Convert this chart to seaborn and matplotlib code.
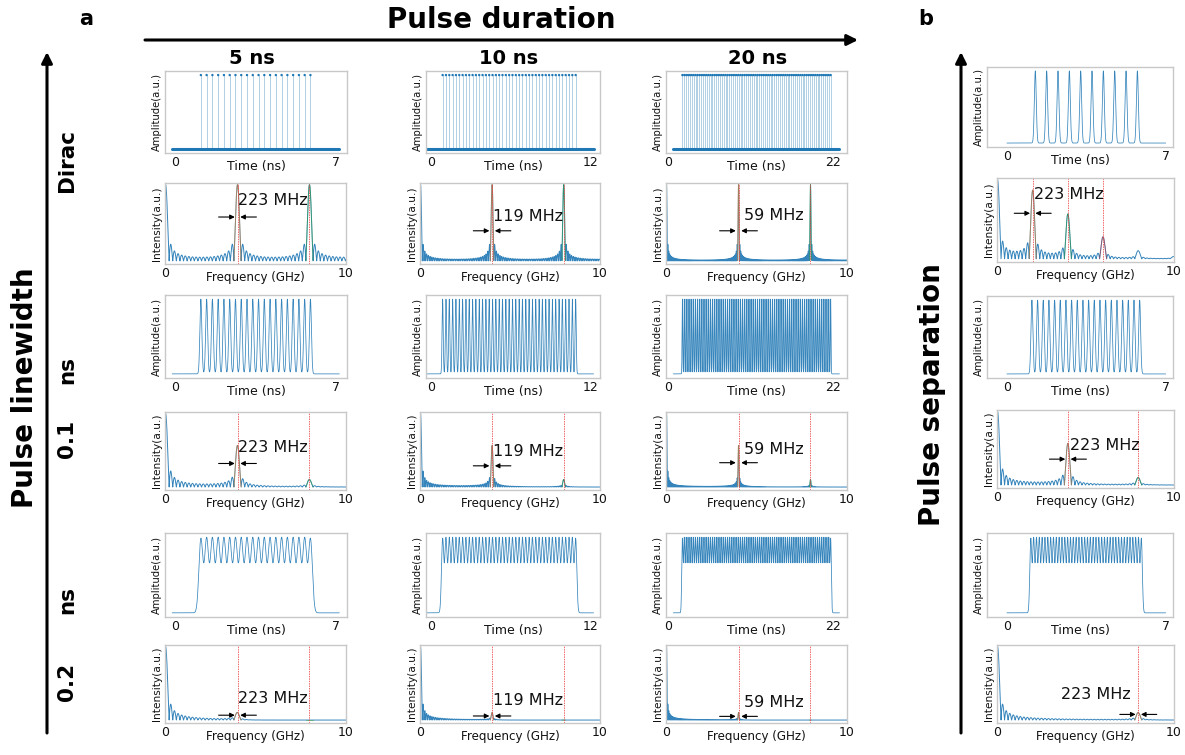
import numpy as np
import matplotlib
matplotlib.use("Agg")
import matplotlib.pyplot as plt
from matplotlib.patches import FancyArrowPatch
import seaborn as sns

# ------------------------------------------------------------------
# Values
# ------------------------------------------------------------------
COL_HEADERS = ["5 ns", "10 ns", "20 ns"]
A_WINDOW_TICKS = [7, 12, 22]                     # last time tick label per column
A_T_RANGE = [(-0.12, 7.13), (-0.37, 12.2), (0.67, 22.8)]   # extent of time trace
A_XLIM = [(-0.43, 7.46), (-0.40, 12.68), (-0.31, 23.8)]
A_N_PULSES = [20, 41, 80]
A_T_FIRST = [1.125, 0.85, 1.875]                 # ns, first pulse
A_PERIOD = 0.25                                  # ns
A_FWHM = [0.0, 0.1, 0.2]                         # Dirac, 0.1 ns, 0.2 ns
A_WIDTH_LABELS = ["223 MHz", "119 MHz", "59 MHz"]
A_RED_LINES = [4.0, 8.0]                         # GHz
A_TEXT_X = [4.02, 4.05, 4.3]
A_TEXT_Y = [[0.78, 0.59, 0.60], [0.55, 0.49, 0.52], [0.32, 0.29, 0.265]]
A_ARROW_Y = [[0.58, 0.41, 0.41], [0.34, 0.31, 0.35], [0.10, 0.09, 0.085]]

B_PERIOD = [0.5, 0.25, 0.125]
B_N_PULSES = [10, 20, 40]
B_T_FIRST = [1.25, 1.1, 1.05]
B_FWHM = 0.1
B_T_RANGE = (0.0, 7.0)
B_XLIM = (-0.88, 7.32)
B_RED_LINES = [[2.0, 4.0, 6.0], [4.0, 8.0], [8.0]]
B_WIDTH_LABEL = "223 MHz"
B_TEXT_X = [2.05, 4.1, 3.6]
B_TEXT_Y = [0.80, 0.54, 0.37]
B_ARROW_Y = [0.58, 0.37, 0.11]

FREQ_TICKS = [0, 10]

# ------------------------------------------------------------------
# Layout (pixels of the 1185x755 canvas)
# ------------------------------------------------------------------
W, H = 1185, 755
A_COLS_TIME = [(165, 347), (426, 600), (666, 847)]
A_COLS_SPEC = [(165, 346), (420, 600), (666, 847)]
A_ROWS = [(71, 153), (183, 264), (295, 378), (412, 490), (533, 617), (645, 723)]
B_COL_TIME = (987, 1173)
B_COL_SPEC = (997, 1174)
B_ROWS = [(67, 147), (178, 262), (296, 378), (410, 488), (533, 617), (645, 723)]

C0 = "#1f77b4"
OVERLAY = ["#ff7f0e", "#2ca02c", "#d62728"]
FS = 80.0
DT = 1.0 / FS
NFFT = 2 ** 16

sns.set_theme(style="white")
plt.rcParams["font.family"] = ["DejaVu Sans"]
plt.rcParams["text.color"] = "black"
plt.rcParams["axes.labelcolor"] = "#111111"

fig = plt.figure(figsize=(W / 100, H / 100), dpi=100)
fig.patch.set_facecolor("white")


def px(x):
    return x / W


def py(y):
    return 1 - y / H


def add_ax(col, row):
    l, r = col
    t, b = row
    return fig.add_axes([px(l), py(b), (r - l) / W, (b - t) / H])


def style(ax):
    for sp in ax.spines.values():
        sp.set_color("#c8c8c8")
        sp.set_linewidth(1.0)
    ax.set_yticks([])
    ax.tick_params(axis="x", length=0, pad=2, labelsize=9, colors="#111111")
    ax.grid(False)


def gauss_train(t, times, fwhm):
    sig = fwhm / 2.3548
    return np.exp(-(t[:, None] - times[None, :]) ** 2 / (2 * sig ** 2)).sum(axis=1)


def draw_time(ax, times, fwhm, t_range, xlim, tick_end):
    if fwhm == 0:
        sns.lineplot(x=[t_range[0], t_range[1]], y=[0, 0], ax=ax, color=C0, lw=2.2)
        ax.vlines(times, 0, 1, color=C0, lw=0.6, alpha=0.4)
        sns.scatterplot(x=times, y=np.ones_like(times), ax=ax, color=C0, s=3,
                        edgecolor="none", linewidth=0)
        top = 1.0
    else:
        t = np.arange(t_range[0], t_range[1], 0.004)
        s = gauss_train(t, times, fwhm)
        sns.lineplot(x=t, y=s, ax=ax, color=C0, lw=0.55, alpha=0.9,
                     estimator=None, sort=False)
        top = s.max()
    ax.set_xlim(xlim)
    ax.set_ylim(-0.055 * top, 1.055 * top)
    style(ax)
    ax.set_xticks([0, tick_end])
    ax.set_xticklabels(["0", str(tick_end)])
    ax.set_xlabel("Time (ns)", fontsize=9, labelpad=-6)
    ax.set_ylabel("Amplitude(a.u.)", fontsize=7.2, labelpad=2)


def spectrum(times, fwhm, t_hi):
    n = int(round(t_hi / DT)) + 1
    t = DT * np.arange(n)
    if fwhm == 0:
        s = np.zeros(n)
        idx = np.round(times / DT).astype(int)
        s[idx] = 1.0
    else:
        s = gauss_train(t, times, fwhm)
    X = np.abs(np.fft.rfft(s, NFFT))
    f = np.fft.rfftfreq(NFFT, DT)
    m = f <= 10.05
    return f[m], X[m] / X.max()


def draw_spec(ax, times, fwhm, t_hi, red_lines, half_lobe, label, tx, ty, ay, f0):
    f, a = spectrum(times, fwhm, t_hi)
    sns.lineplot(x=f, y=a, ax=ax, color=C0, lw=0.7, alpha=0.9,
                 estimator=None, sort=False)
    for k, fl in enumerate(red_lines):
        m = (f >= fl - half_lobe) & (f <= fl + half_lobe)
        sns.lineplot(x=f[m], y=a[m], ax=ax, color=OVERLAY[k % 3], lw=0.7, alpha=0.5,
                     estimator=None, sort=False)
        ax.axvline(fl, color="#f04040", lw=0.7, ls=(0, (1.5, 1.0)), alpha=0.8)
    ax.set_xlim(-0.03, 10.03)
    ax.set_ylim(-0.04, 1.02)
    style(ax)
    ax.set_xticks(FREQ_TICKS)
    ax.set_xticklabels([str(v) for v in FREQ_TICKS])
    ax.set_xlabel("Frequency (GHz)", fontsize=8.6, labelpad=-6)
    ax.set_ylabel("Intensity(a.u.)", fontsize=7.6, labelpad=2)
    tr = ax.get_xaxis_transform()
    ax.text(tx, ty, label, transform=tr, fontsize=11.5, ha="left", va="center",
            color="#111111")
    ap = dict(arrowstyle="-|>", color="black", lw=0.8, mutation_scale=7,
              shrinkA=0, shrinkB=0)
    ax.annotate("", xy=(f0 - 0.15, ay), xytext=(f0 - 1.05, ay), xycoords=tr,
                textcoords=tr, arrowprops=ap)
    ax.annotate("", xy=(f0 + 0.15, ay), xytext=(f0 + 1.05, ay), xycoords=tr,
                textcoords=tr, arrowprops=ap)


# ---------------- panel a ----------------
for r, fwhm in enumerate(A_FWHM):
    for c in range(3):
        times = A_T_FIRST[c] + A_PERIOD * np.arange(A_N_PULSES[c])
        ax_t = add_ax(A_COLS_TIME[c], A_ROWS[2 * r])
        draw_time(ax_t, times, fwhm, A_T_RANGE[c], A_XLIM[c], A_WINDOW_TICKS[c])
        ax_s = add_ax(A_COLS_SPEC[c], A_ROWS[2 * r + 1])
        half = 1.0 / (A_N_PULSES[c] * A_PERIOD)
        draw_spec(ax_s, times, fwhm, A_T_RANGE[c][1], A_RED_LINES, half,
                  A_WIDTH_LABELS[c], A_TEXT_X[c], A_TEXT_Y[r][c], A_ARROW_Y[r][c],
                  A_RED_LINES[0])

# ---------------- panel b ----------------
for r in range(3):
    times = B_T_FIRST[r] + B_PERIOD[r] * np.arange(B_N_PULSES[r])
    ax_t = add_ax(B_COL_TIME, B_ROWS[2 * r])
    draw_time(ax_t, times, B_FWHM, B_T_RANGE, B_XLIM, 7)
    ax_s = add_ax(B_COL_SPEC, B_ROWS[2 * r + 1])
    half = 1.0 / (B_N_PULSES[r] * B_PERIOD[r])
    draw_spec(ax_s, times, B_FWHM, B_T_RANGE[1], B_RED_LINES[r], half,
              B_WIDTH_LABEL, B_TEXT_X[r], B_TEXT_Y[r], B_ARROW_Y[r],
              B_RED_LINES[r][0])

# ---------------- annotations ----------------
fig.text(px(86), py(19), "a", fontsize=15, fontweight="bold", ha="center", va="center")
fig.text(px(926), py(19), "b", fontsize=15, fontweight="bold", ha="center", va="center")
fig.text(px(501), py(20), "Pulse duration", fontsize=20, fontweight="bold",
         ha="center", va="center")
for x, s in zip([252, 509, 758], COL_HEADERS):
    fig.text(px(x), py(59), s, fontsize=14, fontweight="bold", ha="center", va="center")

fig.text(px(25), py(388), "Pulse linewidth", fontsize=20, fontweight="bold",
         rotation=90, ha="center", va="center")
fig.text(px(932), py(395), "Pulse separation", fontsize=20, fontweight="bold",
         rotation=90, ha="center", va="center")

fig.text(px(67), py(160), "Dirac", fontsize=15.5, fontweight="bold", rotation=90,
         ha="center", va="center")
fig.text(px(67), py(439), "0.1", fontsize=15.5, fontweight="bold", rotation=90,
         ha="center", va="center")
fig.text(px(67), py(370), "ns", fontsize=15.5, fontweight="bold", rotation=90,
         ha="center", va="center")
fig.text(px(67), py(682), "0.2", fontsize=15.5, fontweight="bold", rotation=90,
         ha="center", va="center")
fig.text(px(67), py(600), "ns", fontsize=15.5, fontweight="bold", rotation=90,
         ha="center", va="center")


def big_arrow(x0, y0, x1, y1):
    fig.add_artist(FancyArrowPatch((px(x0), py(y0)), (px(x1), py(y1)),
                                   transform=fig.transFigure, arrowstyle="-|>",
                                   mutation_scale=16, lw=2.2, color="black",
                                   shrinkA=0, shrinkB=0))


big_arrow(145, 40, 858, 40)
big_arrow(47, 733, 47, 52)
big_arrow(961, 733, 961, 52)

fig.savefig("out.png", dpi=100, facecolor="white")
